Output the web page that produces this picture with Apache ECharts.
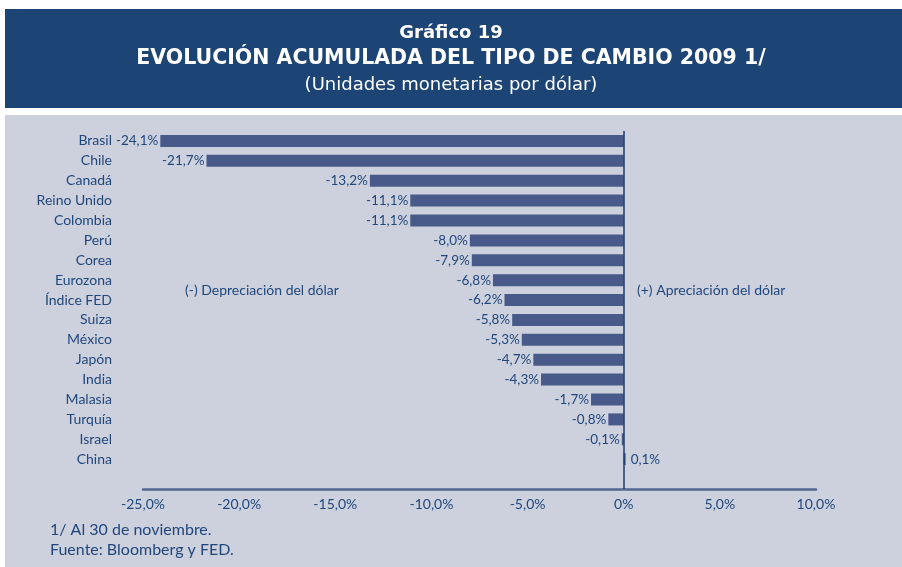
<!DOCTYPE html>
<html>
<head>
<meta charset="utf-8">
<script src="https://cdn.jsdelivr.net/npm/echarts@6/dist/echarts.min.js"></script>
<style>
  html, body { margin: 0; padding: 0; background: #ffffff; }
  #chart { width: 902px; height: 567px; }
</style>
</head>
<body>
<div id="chart"></div>
<script>
// datos del gráfico
var paises = ["Brasil", "Chile", "Canadá", "Reino Unido", "Colombia", "Perú", "Corea",
  "Eurozona", "Índice FED", "Suiza", "México", "Japón", "India", "Malasia",
  "Turquía", "Israel", "China"];
var variacion = [-24.1, -21.7, -13.2, -11.1, -11.1, -8.0, -7.9, -6.8, -6.2, -5.8,
  -5.3, -4.7, -4.3, -1.7, -0.8, -0.1, 0.1];
var ejeMin = -25;
var ejeMax = 10;
var ejePaso = 5;

var textColor = "#1f477c";
var fontName = "Lato";
var titleFont = "'DejaVu Sans'";

function fmt(v, dec) {
  return v.toFixed(dec).replace(".", ",") + "%";
}

var chart = echarts.init(document.getElementById("chart"), null, { renderer: "canvas" });

var option = {
  backgroundColor: "#ffffff",
  animation: false,
  graphic: [
    { type: "rect", shape: { x: 5, y: 9, width: 897, height: 99 }, style: { fill: "#1c4474" }, z: -10 },
    { type: "rect", shape: { x: 5, y: 115, width: 897, height: 452 }, style: { fill: "#cdd0dd" }, z: -10 },
    {
      type: "text", left: "center", top: 24,
      style: { text: "Gráfico 19", fill: "#ffffff", font: "bold 18px " + titleFont }
    },
    {
      type: "text", left: "center", top: 48,
      style: { text: "EVOLUCIÓN ACUMULADA DEL TIPO DE CAMBIO 2009 1/", fill: "#ffffff", font: "bold 20.5px " + titleFont }
    },
    {
      type: "text", left: "center", top: 76,
      style: { text: "(Unidades monetarias por dólar)", fill: "#ffffff", font: "18px " + titleFont }
    },
    {
      type: "text", left: 185, top: 283,
      style: { text: "(-) Depreciación del dólar", fill: textColor, font: "14px " + fontName }
    },
    {
      type: "text", left: 637, top: 283,
      style: { text: "(+) Apreciación del dólar", fill: textColor, font: "14px " + fontName }
    },
    {
      type: "text", left: 50, top: 522,
      style: { text: "1/ Al 30 de noviembre.", fill: textColor, font: "16px " + fontName }
    },
    {
      type: "text", left: 50, top: 542,
      style: { text: "Fuente: Bloomberg y FED.", fill: textColor, font: "16px " + fontName }
    }
  ],
  grid: {
    left: 143,
    right: 86,
    top: 131,
    height: 358,
    containLabel: false
  },
  xAxis: {
    type: "value",
    min: ejeMin,
    max: ejeMax,
    interval: ejePaso,
    axisLine: { show: true, onZero: false, lineStyle: { color: "#53678f", width: 2.5 } },
    axisTick: { show: false },
    splitLine: { show: false },
    axisLabel: {
      color: textColor,
      fontFamily: fontName,
      fontSize: 14,
      margin: 8,
      formatter: function (v) {
        return v === 0 ? "0%" : fmt(v, 1);
      }
    }
  },
  yAxis: {
    type: "category",
    data: paises,
    inverse: true,
    max: paises.length,
    axisLine: { show: false, onZero: false },
    axisTick: { show: false },
    splitLine: { show: false },
    axisLabel: {
      color: textColor,
      fontFamily: fontName,
      fontSize: 14,
      margin: 31
    }
  },
  series: [
    {
      type: "bar",
      barWidth: 12,
      itemStyle: { color: "#485a89" },
      label: {
        show: true,
        color: textColor,
        fontFamily: fontName,
        fontSize: 13.5,
        distance: 2,
        position: "left",
        formatter: function (p) {
          return fmt(p.value, 1);
        }
      },
      // etiqueta a la derecha para valores positivos
      data: variacion.map(function (v) {
        return v >= 0 ? { value: v, label: { position: "right", distance: 5 } } : v;
      }),
      markLine: {
        silent: true,
        symbol: "none",
        label: { show: false },
        lineStyle: { color: "#1c3a6a", width: 1.5, type: "solid" },
        data: [{ xAxis: 0 }]
      }
    }
  ]
};

chart.setOption(option);
</script>
</body>
</html>
